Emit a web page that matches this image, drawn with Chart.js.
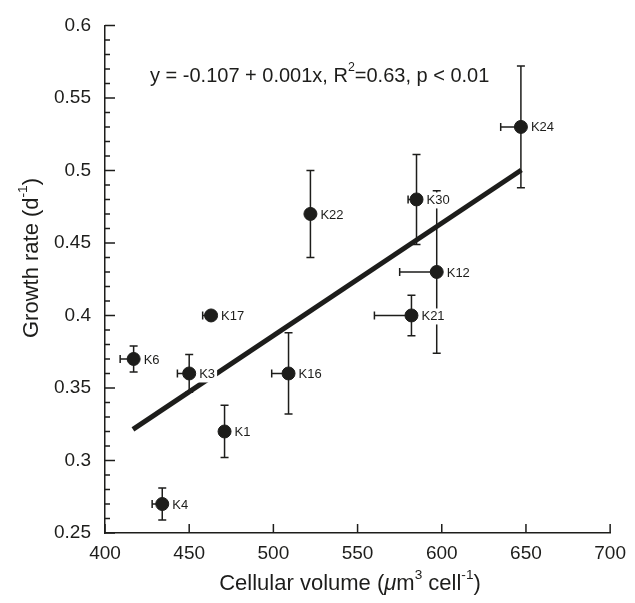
<!DOCTYPE html>
<html>
<head>
<meta charset="utf-8">
<script src="https://cdn.jsdelivr.net/npm/chart.js@4.4.0/dist/chart.umd.min.js"></script>
<style>
 html, body { margin: 0; padding: 0; background: #fff; }
 #wrap { width: 635px; height: 603px; }
</style>
</head>
<body>
<div id="wrap"><canvas id="growthChart" width="635" height="603"></canvas></div>
<script>
 // Strains and measured values
 const strains = ['K1', 'K3', 'K4', 'K6', 'K12', 'K16', 'K17', 'K21', 'K22', 'K24', 'K30'];
 const volume = [471, 450, 434, 417, 597, 509, 463, 582, 522, 647, 585];
 const growth = [0.32, 0.36, 0.27, 0.37, 0.43, 0.36, 0.40, 0.40, 0.47, 0.53, 0.48];
 const volumeErr = [0, 7, 6, 8, 22, 10, 5, 22, 0, 12, 5];
 const growthErr = [0.018, 0.013, 0.011, 0.009, 0.056, 0.028, 0, 0.014, 0.030, 0.042, 0.031];

 // Regression line end points
 const fitX = [416.6, 647.3];
 const fitY = [0.3215, 0.5003];

 const xTicks = [400, 450, 500, 550, 600, 650, 700];
 const yMajor = [0.25, 0.3, 0.35, 0.4, 0.45, 0.5, 0.55, 0.6];

 const ink = '#1d1d1b';
 const fontFamily = '"Liberation Sans", Arial, Helvetica, sans-serif';

 // draw a run of text pieces, some superscript or italic
 function drawRich(ctx, parts, x, y, size, align) {
     const pieces = parts.map(p => {
         const sup = p[1] === 'sup';
         const s = sup ? size * 0.62 : size;
         const font = (p[1] === 'it' ? 'italic ' : '') + s + 'px ' + fontFamily;
         ctx.font = font;
         return { text: p[0], font: font, w: ctx.measureText(p[0]).width, dy: sup ? -size * 0.42 : 0 };
     });
     const total = pieces.reduce((a, p) => a + p.w, 0);
     let cx = align === 'center' ? x - total / 2 : x;
     ctx.textAlign = 'left';
     ctx.textBaseline = 'middle';
     pieces.forEach(p => {
         ctx.font = p.font;
         ctx.fillText(p.text, cx, y + p.dy);
         cx += p.w;
     });
 }

 const errorBars = {
     id: 'errorBars',
     beforeDatasetsDraw(chart) {
         const { ctx, scales: { x, y } } = chart;
         ctx.save();
         ctx.strokeStyle = ink;
         ctx.lineWidth = 1.5;
         volume.forEach((v, i) => {
             const px = x.getPixelForValue(v);
             const py = y.getPixelForValue(growth[i]);
             if (growthErr[i] > 0) {
                 const top = y.getPixelForValue(growth[i] + growthErr[i]);
                 const bot = y.getPixelForValue(growth[i] - growthErr[i]);
                 ctx.beginPath();
                 ctx.moveTo(px, top); ctx.lineTo(px, bot);
                 ctx.moveTo(px - 4, top); ctx.lineTo(px + 4, top);
                 ctx.moveTo(px - 4, bot); ctx.lineTo(px + 4, bot);
                 ctx.stroke();
             }
             if (volumeErr[i] > 0) {
                 const left = x.getPixelForValue(v - volumeErr[i]);
                 ctx.beginPath();
                 ctx.moveTo(left, py); ctx.lineTo(px, py);
                 ctx.moveTo(left, py - 4); ctx.lineTo(left, py + 4);
                 ctx.stroke();
             }
         });
         ctx.restore();
     }
 };

 const annotations = {
     id: 'annotations',
     afterDraw(chart) {
         const { ctx, chartArea: area, scales: { x, y } } = chart;
         ctx.save();
         ctx.fillStyle = ink;
         ctx.strokeStyle = ink;
         ctx.lineWidth = 1.5;

         // inward tick marks
         ctx.beginPath();
         xTicks.forEach(v => {
             const px = x.getPixelForValue(v);
             ctx.moveTo(px, area.bottom); ctx.lineTo(px, area.bottom - 9);
         });
         y.ticks.forEach(t => {
             const py = y.getPixelForValue(t.value);
             const major = yMajor.some(m => Math.abs(m - t.value) < 1e-6);
             ctx.moveTo(area.left, py); ctx.lineTo(area.left + (major ? 10 : 5), py);
         });
         ctx.stroke();

         // strain labels on white boxes
         ctx.font = '13px ' + fontFamily;
         ctx.textAlign = 'left';
         ctx.textBaseline = 'middle';
         strains.forEach((s, i) => {
             const lx = x.getPixelForValue(volume[i]) + 10;
             const ly = y.getPixelForValue(growth[i]) + 1;
             const w = ctx.measureText(s).width;
             ctx.fillStyle = '#fff';
             ctx.fillRect(lx - 1, ly - 8, w + 3, 16);
             ctx.fillStyle = ink;
             ctx.fillText(s, lx, ly);
         });

         // equation
         drawRich(ctx, [['y = -0.107 + 0.001x, R'], ['2', 'sup'], ['=0.63, p < 0.01']], 150, 76, 20, 'left');

         // axis titles
         drawRich(ctx, [['Cellular volume ('], ['\u03bc', 'it'], ['m'], ['3', 'sup'], [' cell'], ['-1', 'sup'], [')']],
             350, 584, 22, 'center');
         ctx.translate(32, 258);
         ctx.rotate(-Math.PI / 2);
         drawRich(ctx, [['Growth rate (d'], ['-1', 'sup'], [')']], 0, 0, 22, 'center');
         ctx.restore();
     }
 };

 const ctx = document.getElementById('growthChart').getContext('2d');

 const growthChart = new Chart(ctx, {
     type: 'scatter',
     data: {
         datasets: [{
             label: 'Fit',
             type: 'line',
             data: fitX.map((v, i) => ({ x: v, y: fitY[i] })),
             borderColor: ink,
             borderWidth: 5,
             pointRadius: 0,
             fill: false
         }, {
             label: 'Strains',
             data: volume.map((v, i) => ({ x: v, y: growth[i] })),
             backgroundColor: ink,
             borderColor: ink,
             pointRadius: 6.5
         }]
     },
     options: {
         responsive: false,
         animation: false,
         layout: { padding: { top: 20, right: 18, left: 0, bottom: 0 } },
         plugins: {
             legend: { display: false },
             tooltip: { enabled: false }
         },
         scales: {
             x: {
                 type: 'linear',
                 min: 400,
                 max: 700,
                 afterFit: s => { s.height = 70; },
                 afterBuildTicks: s => { s.ticks = xTicks.map(v => ({ value: v })); },
                 grid: { display: false, drawTicks: false },
                 border: { display: true, color: ink, width: 1.5 },
                 ticks: {
                     padding: 9,
                     color: ink,
                     font: { family: fontFamily, size: 19 }
                 }
             },
             y: {
                 min: 0.25,
                 max: 0.6,
                 afterFit: s => { s.width = 105; },
                 grid: { display: false, drawTicks: false },
                 border: { display: true, color: ink, width: 1.5 },
                 ticks: {
                     stepSize: 0.01,
                     maxTicksLimit: 100,
                     autoSkip: false,
                     padding: 14,
                     color: ink,
                     font: { family: fontFamily, size: 19 },
                     callback: v => yMajor.some(m => Math.abs(m - v) < 1e-6) ? String(+v.toFixed(2)) : ''
                 }
             }
         }
     },
     plugins: [errorBars, annotations]
 });
</script>
</body>
</html>
